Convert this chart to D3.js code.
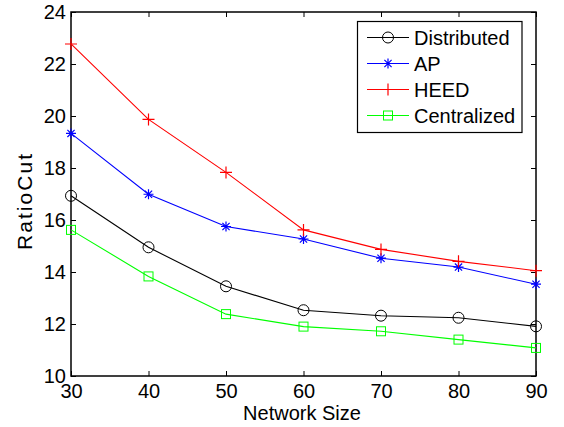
<!DOCTYPE html>
<html>
<head>
<meta charset="utf-8">
<script src="https://cdn.jsdelivr.net/npm/d3@7"></script>
<style>
  body { margin: 0; background: #fff; }
  svg text { font-family: Arial, "Liberation Sans", sans-serif; fill: #000; }
</style>
</head>
<body>
<script>
const w = 564;
const h = 427;

// chart data
const networkSizes = [30, 40, 50, 60, 70, 80, 90];
const distributed = [16.93, 14.95, 13.45, 12.53, 12.32, 12.24, 11.91];
const ap = [19.33, 16.99, 15.75, 15.27, 14.53, 14.19, 13.53];
const heed = [22.77, 19.87, 17.83, 15.62, 14.87, 14.41, 14.05];
const centralized = [15.62, 13.83, 12.38, 11.90, 11.72, 11.40, 11.08];
const yTicks = [10, 12, 14, 16, 18, 20, 22, 24];

const series = [
    { name: "Distributed", values: distributed, color: "#000000", marker: "circle" },
    { name: "AP", values: ap, color: "#0000ff", marker: "asterisk" },
    { name: "HEED", values: heed, color: "#ff0000", marker: "plus" },
    { name: "Centralized", values: centralized, color: "#00ff00", marker: "square" }
];

const plotLeft = 71, plotRight = 536, plotTop = 12, plotBottom = 376;
const fontSize = 20;

const svg = d3.select("body")
    .append("svg")
    .attr("width", w)
    .attr("height", h);

const xScale = d3.scaleLinear().domain([30, 90]).range([plotLeft, plotRight]);
const yScale = d3.scaleLinear().domain([10, 24]).range([plotBottom, plotTop]);

// axes: ticks point inward, MATLAB style box
const tickLen = 5;
svg.append("g")
    .attr("transform", `translate(0, ${plotBottom})`)
    .call(d3.axisBottom(xScale).tickValues(networkSizes).tickSize(-tickLen).tickPadding(8).tickFormat(d3.format("d")))
    .call(g => g.select(".domain").remove())
    .call(g => g.selectAll("text").attr("font-size", fontSize));

svg.append("g")
    .attr("transform", `translate(${plotLeft}, 0)`)
    .call(d3.axisLeft(yScale).tickValues(yTicks).tickSize(-tickLen).tickPadding(5).tickFormat(d3.format("d")))
    .call(g => g.select(".domain").remove())
    .call(g => g.selectAll("text").attr("font-size", fontSize));

svg.append("g")
    .attr("transform", `translate(0, ${plotTop})`)
    .call(d3.axisTop(xScale).tickValues(networkSizes).tickSize(-tickLen).tickFormat(""))
    .call(g => g.select(".domain").remove());

svg.append("g")
    .attr("transform", `translate(${plotRight}, 0)`)
    .call(d3.axisRight(yScale).tickValues(yTicks).tickSize(-tickLen).tickFormat(""))
    .call(g => g.select(".domain").remove());

svg.append("rect")
    .attr("x", plotLeft)
    .attr("y", plotTop)
    .attr("width", plotRight - plotLeft)
    .attr("height", plotBottom - plotTop)
    .attr("fill", "none")
    .attr("stroke", "#000")
    .attr("stroke-width", 1.5);

svg.selectAll(".tick line").attr("stroke", "#000");

// axis labels
svg.append("text")
    .attr("x", 302)
    .attr("y", 420)
    .attr("text-anchor", "middle")
    .attr("font-size", fontSize)
    .text("Network Size");

svg.append("text")
    .attr("transform", "translate(32, 202) rotate(-90)")
    .attr("text-anchor", "middle")
    .attr("font-size", 21)
    .attr("textLength", 96)
    .attr("lengthAdjust", "spacing")
    .text("RatioCut");

function drawMarker(g, type, color) {
    if (type === "circle") {
        g.append("circle").attr("r", 5.5).attr("fill", "none").attr("stroke", color);
    } else if (type === "square") {
        g.append("rect").attr("x", -4.5).attr("y", -4.5).attr("width", 9).attr("height", 9)
            .attr("fill", "none").attr("stroke", color);
    } else if (type === "plus") {
        g.append("path").attr("d", "M-6,0H6M0,-6V6").attr("stroke", color).attr("stroke-width", 1.2);
    } else if (type === "asterisk") {
        g.append("path").attr("d", "M-5,0H5M0,-5V5M-3.6,-3.6L3.6,3.6M-3.6,3.6L3.6,-3.6")
            .attr("stroke", color).attr("stroke-width", 1.2);
    }
}

const line = d3.line()
    .x((d, i) => xScale(networkSizes[i]))
    .y(d => yScale(d));

series.forEach(s => {
    svg.append("path")
        .datum(s.values)
        .attr("d", line)
        .attr("fill", "none")
        .attr("stroke", s.color)
        .attr("stroke-width", 1.1);
    s.values.forEach((v, i) => {
        const g = svg.append("g")
            .attr("transform", `translate(${xScale(networkSizes[i])}, ${yScale(v)})`);
        drawMarker(g, s.marker, s.color);
    });
});

// legend
const legend = svg.append("g");
legend.append("rect")
    .attr("x", 357.5)
    .attr("y", 21.5)
    .attr("width", 164.5)
    .attr("height", 111)
    .attr("fill", "#fff")
    .attr("stroke", "#000")
    .attr("stroke-width", 1.2);

series.forEach((s, i) => {
    const y = 37.5 + i * 26;
    legend.append("line")
        .attr("x1", 367).attr("x2", 409)
        .attr("y1", y).attr("y2", y)
        .attr("stroke", s.color);
    const g = legend.append("g").attr("transform", `translate(388, ${y})`);
    drawMarker(g, s.marker, s.color);
    legend.append("text")
        .attr("x", 414)
        .attr("y", y + 7)
        .attr("font-size", fontSize)
        .text(s.name);
});
</script>
</body>
</html>
